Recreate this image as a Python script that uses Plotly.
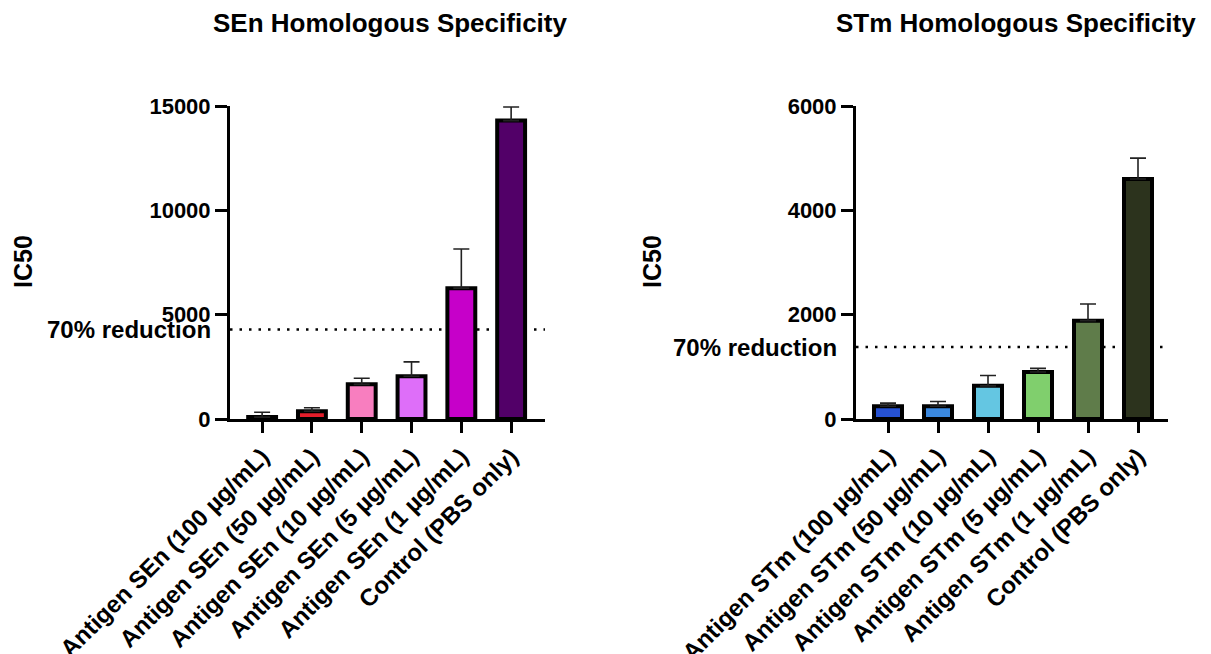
import plotly.graph_objects as go

# Group labels
sen_groups = [
    "Antigen SEn (100 µg/mL)",
    "Antigen SEn (50 µg/mL)",
    "Antigen SEn (10 µg/mL)",
    "Antigen SEn (5 µg/mL)",
    "Antigen SEn (1 µg/mL)",
    "Control (PBS only)",
]
stm_groups = [
    "Antigen STm (100 µg/mL)",
    "Antigen STm (50 µg/mL)",
    "Antigen STm (10 µg/mL)",
    "Antigen STm (5 µg/mL)",
    "Antigen STm (1 µg/mL)",
    "Control (PBS only)",
]

# IC50 means and upper error (SD)
sen_ic50 = [90, 370, 1660, 2050, 6270, 14300]
sen_err = [230, 170, 290, 690, 1880, 650]
stm_ic50 = [245, 245, 635, 900, 1885, 4600]
stm_err = [60, 90, 200, 70, 320, 400]

# Y tick values
sen_ticks = [0, 5000, 10000, 15000]
stm_ticks = [0, 2000, 4000, 6000]

# Bar fills
sen_colors = ["#8b1a1a", "#e41e2b", "#f87ebf", "#de6ef9", "#c600c9", "#520068"]
stm_colors = ["#2651d1", "#3b88de", "#64c6e2", "#80cf6d", "#5f7c4a", "#2c331d"]

# 70% reduction threshold relative to the PBS control
reduction = 0.70
sen_cut = sen_ic50[-1] * (1 - reduction)
stm_cut = stm_ic50[-1] * (1 - reduction)

FONT = "Liberation Sans, Arial, sans-serif"

fig = go.Figure()


def add_panel(groups, vals, errs, colors, xa, ya):
    fig.add_trace(go.Bar(
        x=groups, y=vals,
        xaxis=xa, yaxis=ya,
        width=0.56,
        marker=dict(color=colors, line=dict(color="black", width=4)),
        error_y=dict(type="data", array=errs, arrayminus=[0] * len(errs),
                     symmetric=False, color="#222222", thickness=1.6, width=8),
        showlegend=False,
    ))


add_panel(sen_groups, sen_ic50, sen_err, sen_colors, "x", "y")
add_panel(stm_groups, stm_ic50, stm_err, stm_colors, "x2", "y2")

y_dom = [235 / 654, 548 / 654]
x1_dom = [230 / 1211, 545 / 1211]
x2_dom = [856 / 1211, 1168 / 1211]

xcommon = dict(
    type="category", showline=True, linewidth=3, linecolor="black",
    ticks="outside", ticklen=11, tickwidth=3, tickcolor="black",
    tickangle=-45, showgrid=False, zeroline=False, automargin=False,
    tickfont=dict(family=FONT, size=24, color="black", weight="bold"),
)
ycommon = dict(
    showline=True, linewidth=3, linecolor="black",
    ticks="outside", ticklen=12, tickwidth=3, tickcolor="black",
    showgrid=False, zeroline=False, automargin=False, tickformat="d",
    tickfont=dict(family=FONT, size=22, color="black", weight="bold"),
    domain=y_dom,
)

fig.update_layout(
    width=1211, height=654, autosize=False,
    margin=dict(l=0, r=0, t=0, b=0, autoexpand=False),
    paper_bgcolor="white", plot_bgcolor="white",
    xaxis={**xcommon, "domain": x1_dom, "anchor": "y", "range": [-0.645, 5.68]},
    yaxis={**ycommon, "anchor": "x", "range": [0, 15000], "tickvals": sen_ticks},
    xaxis2={**xcommon, "domain": x2_dom, "anchor": "y2", "range": [-0.64, 5.6]},
    yaxis2={**ycommon, "anchor": "x2", "range": [0, 6000], "tickvals": stm_ticks},
)

# Dotted threshold lines
for xr, yr, cut in [("x domain", "y", sen_cut), ("x2 domain", "y2", stm_cut)]:
    fig.add_shape(type="line", xref=xr, yref=yr, x0=0, x1=1, y0=cut, y1=cut,
                  line=dict(color="black", width=2.5, dash="2.5px,7px"),
                  layer="below")

annots = [
    # panel titles
    dict(text="SEn Homologous Specificity", x=389.5 / 1211, y=1 - 23 / 654,
         size=26, angle=0),
    dict(text="STm Homologous Specificity", x=1016.5 / 1211, y=1 - 23 / 654,
         size=26, angle=0),
    # y-axis titles
    dict(text="IC50", x=23 / 1211, y=1 - 262 / 654, size=25, angle=-90),
    dict(text="IC50", x=652 / 1211, y=1 - 262 / 654, size=25, angle=-90),
]
for a in annots:
    fig.add_annotation(
        text=a["text"], x=a["x"], y=a["y"], xref="paper", yref="paper",
        showarrow=False, textangle=a["angle"],
        xanchor="center", yanchor="middle",
        font=dict(family=FONT, size=a["size"], color="black", weight="bold"),
    )

# Threshold labels
for xr, yr, cut in [("x domain", "y", sen_cut), ("x2 domain", "y2", stm_cut)]:
    fig.add_annotation(
        text="70% reduction", x=0, y=cut, xref=xr, yref=yr,
        xanchor="right", yanchor="middle", xshift=-17, showarrow=False,
        font=dict(family=FONT, size=24, color="black", weight="bold"),
    )

fig.write_html("out.html")
